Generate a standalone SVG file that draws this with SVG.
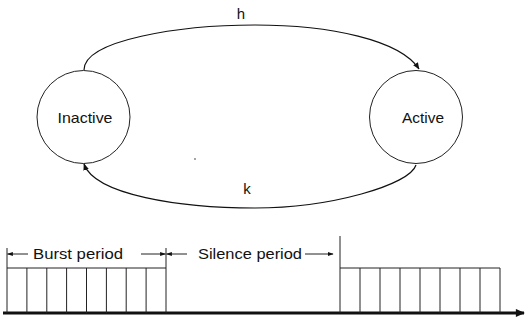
<svg xmlns="http://www.w3.org/2000/svg" width="531" height="320" viewBox="0 0 531 320">
<style>
text{font-family:"Liberation Sans",Arial,sans-serif;fill:#111;font-size:15px}
.st{fill:none;stroke:#111;stroke-width:1.2}
.thin{fill:none;stroke:#222;stroke-width:1}
</style>
<defs>
<marker id="ah" viewBox="0 0 10 10" refX="9" refY="5" markerWidth="7" markerHeight="7" orient="auto" markerUnits="userSpaceOnUse"><path d="M0,1 L10,5 L0,9 z" fill="#111"/></marker>
<marker id="ahs" viewBox="0 0 10 10" refX="9" refY="5" markerWidth="6" markerHeight="6" orient="auto" markerUnits="userSpaceOnUse"><path d="M0,1.5 L10,5 L0,8.5 z" fill="#111"/></marker>
<marker id="big" viewBox="0 0 10 10" refX="9" refY="5" markerWidth="10" markerHeight="9" orient="auto" markerUnits="userSpaceOnUse"><path d="M0,0.5 L10,5 L0,9.5 z" fill="#111"/></marker>
</defs>
<g id="inactive">
<circle cx="83.5" cy="117" r="46.5" class="thin"/>
<text x="85" y="123" text-anchor="middle" textLength="55" lengthAdjust="spacingAndGlyphs">Inactive</text>
</g>
<g id="active">
<circle cx="416" cy="117" r="46.5" class="thin"/>
<text x="423" y="123" text-anchor="middle" textLength="42" lengthAdjust="spacingAndGlyphs">Active</text>
</g>
<g id="connectors">
<path d="M84 70 C84 40,180 25,255 25 C330 25,400 40,419 69" class="st" marker-end="url(#ah)"/>
<text x="241" y="19" text-anchor="middle">h</text>
<path d="M416 165 C410 185,330 208,255 208 C180 208,95 195,84 164" class="st" marker-end="url(#ah)"/>
<text x="247" y="194" text-anchor="middle">k</text>
</g>
<circle cx="195" cy="159" r="0.8" fill="#333"/>
<g id="timeline">
<path d="M3 313 H524" stroke="#111" stroke-width="3" fill="none" marker-end="url(#big)"/>
<path d="M7 268 H166 M7 248 V313 M26.9 268 V313 M46.8 268 V313 M66.6 268 V313 M86.5 268 V313 M106.4 268 V313 M126.2 268 V313 M146.1 268 V313 M166 248 V313" class="thin"/>
<path d="M340 268 H500 M340 236 V313 M360 268 V313 M380 268 V313 M400 268 V313 M420 268 V313 M440 268 V313 M460 268 V313 M480 268 V313 M500 268 V313" class="thin"/>
<path d="M28 254 H7.5" class="thin" marker-end="url(#ahs)"/>
<path d="M141 254 H165.5" class="thin" marker-end="url(#ahs)"/>
<path d="M187 254 H166.5" class="thin" marker-end="url(#ahs)"/>
<path d="M305 254 H333" class="thin" marker-end="url(#ahs)"/>
<text x="33" y="259" textLength="90" lengthAdjust="spacingAndGlyphs">Burst period</text>
<text x="198" y="259" textLength="104" lengthAdjust="spacingAndGlyphs">Silence period</text>
</g>
</svg>
